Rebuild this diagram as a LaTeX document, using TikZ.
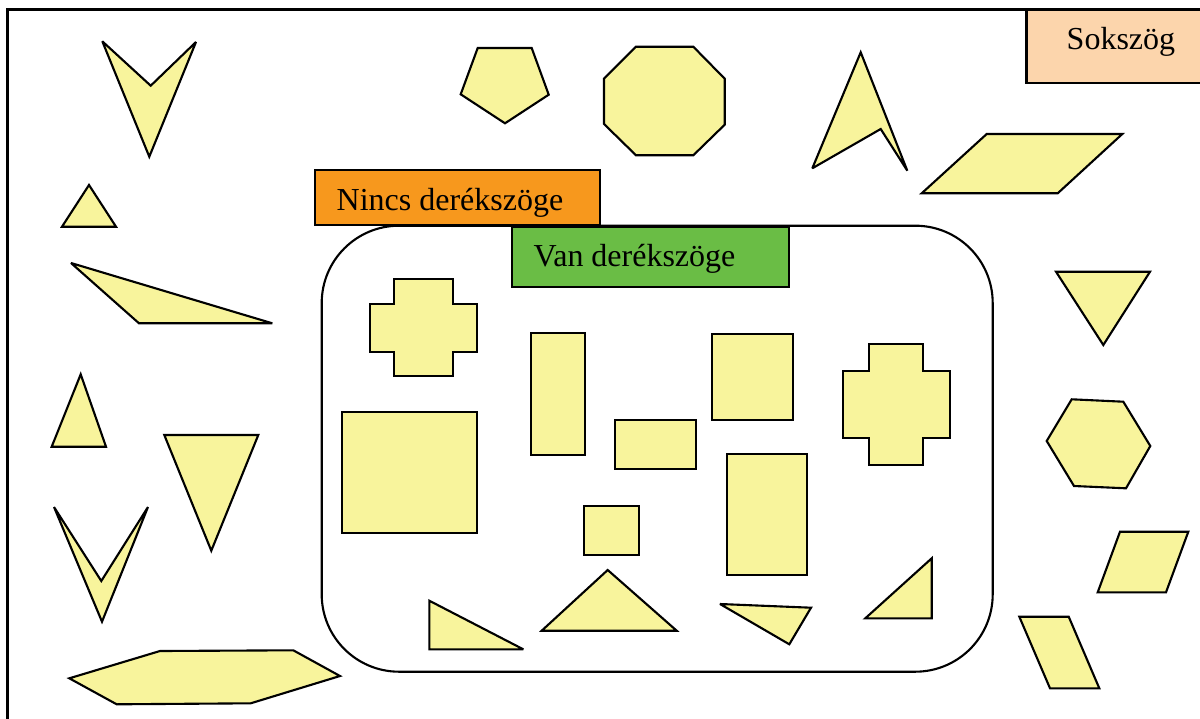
\documentclass[tikz,border=0pt]{standalone}
\usepackage{fontspec}
\setmainfont{Liberation Serif}
\definecolor{shapefill}{HTML}{F8F49C}
\definecolor{orangebox}{HTML}{F7981D}
\definecolor{greenbox}{HTML}{6ABD45}
\definecolor{peachbox}{HTML}{FCD5AC}
\tikzset{
  shp/.style={draw=black, fill=shapefill, line width=0.6pt, line join=miter, miter limit=3},
  boxstyle/.style={draw=black, line width=0.6pt},
  lbl/.style={inner sep=0pt, font=\fontsize{9.1pt}{11pt}\selectfont}
}
\begin{document}
\begin{tikzpicture}[x={(0.01cm,0)}, y={(0,-0.01cm)}]
\clip (0,0) rectangle (1200,718);
\fill[white] (0,0) rectangle (1200,718);
% outer frame
\draw[line width=0.6pt] (7.5,9.5) rectangle (1230,740);
% Sokszog label
\draw[boxstyle, fill=peachbox] (1026.5,9.5) rectangle (1230,83);
\node[lbl, anchor=base west] (sokszog) at (1066,50) {Sokszög};
% rounded container
\draw[line width=0.6pt, rounded corners=22pt] (321.7,225.7) rectangle (992.7,671.7);
% labels
\draw[boxstyle, fill=orangebox] (314.7,170) rectangle (600,225);
\node[lbl, anchor=base west] (nincs) at (336,210) {Nincs derékszöge};
\draw[boxstyle, fill=greenbox] (511.7,226.7) rectangle (788.7,286.7);
\node[lbl, anchor=base west] (van) at (533,266.5) {Van derékszöge};

% outside shapes
\draw[shp] (102.3,41.3) -- (150.7,85.7) -- (196,42) -- (149.3,156.7) -- cycle;
\draw[shp] (62,226.7) -- (89,185) -- (116,226.7) -- cycle;
\draw[shp] (71,263) -- (139,323.3) -- (272.3,323.3) -- cycle;
\draw[shp] (51.7,446.7) -- (80.7,374.3) -- (106,446.7) -- cycle;
\draw[shp] (164.3,435) -- (258.3,435) -- (211.3,550.7) -- cycle;
\draw[shp] (54,507) -- (101.3,581) -- (148,507) -- (102,621.7) -- cycle;
\draw[shp] (69.3,678.3) -- (160,651) -- (293.3,650.3) -- (340,676) -- (250.7,703.3) -- (116.7,704.3) -- cycle;
\draw[shp] (477.7,48) -- (531.7,48) -- (548.7,94.7) -- (505,123.3) -- (460.7,94.3) -- cycle;
\draw[shp] (636,46.7) -- (693.3,46.7) -- (724.7,78.7) -- (724.7,124.7) -- (693.3,155.3) -- (636,155.3) -- (604,124) -- (604,78.7) -- cycle;
\draw[shp] (860.7,52.3) -- (907.3,170.7) -- (880.7,129) -- (812.3,168.3) -- cycle;
\draw[shp] (986.7,134) -- (1122.3,134) -- (1057.7,193.3) -- (921.7,193.3) -- cycle;
\draw[shp] (1056,271.7) -- (1150,271.7) -- (1103.3,345) -- cycle;
\draw[shp] (1071.7,399.3) -- (1123.3,401.7) -- (1150.3,446) -- (1126,488.3) -- (1074,486) -- (1046.7,441) -- cycle;
\draw[shp] (1120,531.7) -- (1188.3,531.7) -- (1166,592.3) -- (1097.7,592.3) -- cycle;
\draw[shp] (1019.3,616.7) -- (1068.7,616.7) -- (1099.3,688.3) -- (1050,688.3) -- cycle;

% inside shapes
\draw[shp] (394.3,279) -- (453.3,279) -- (453.3,304) -- (477.3,304) -- (477.3,352) -- (453.3,352) -- (453.3,376) -- (394.3,376) -- (394.3,352) -- (370,352) -- (370,304) -- (394.3,304) -- cycle;
\draw[shp] (869.3,344) -- (923,344) -- (923,371) -- (950,371) -- (950,438.3) -- (923,438.3) -- (923,465) -- (869.3,465) -- (869.3,438.3) -- (842.7,438.3) -- (842.7,371) -- (869.3,371) -- cycle;
\draw[shp] (342.3,412.3) rectangle (476.7,533.3);
\draw[shp] (531,333.3) rectangle (585,455);
\draw[shp] (615,420) rectangle (696,468.7);
\draw[shp] (712,334.3) rectangle (793,420);
\draw[shp] (726.7,454.3) rectangle (807.3,575.3);
\draw[shp] (584,505.7) rectangle (638.7,555);
\draw[shp] (429.3,600.7) -- (429.3,649.3) -- (523.3,649.3) -- cycle;
\draw[shp] (541.7,630.7) -- (607.7,570) -- (676.7,630.7) -- cycle;
\draw[shp] (720,604) -- (811,607.7) -- (789.3,644.3) -- cycle;
\draw[shp] (865.3,618.3) -- (931.7,558.3) -- (931.7,618.3) -- cycle;
\end{tikzpicture}
\end{document}
